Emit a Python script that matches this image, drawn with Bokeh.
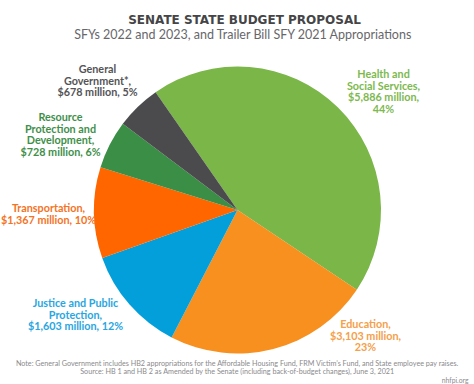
import numpy as np
from bokeh.plotting import figure
from bokeh.models import ColumnDataSource
from bokeh.core.properties import value
from bokeh.embed import file_html
from bokeh.resources import INLINE

categories = ["Health and Social Services", "Education", "Justice and Public Protection",
              "Transportation", "Resource Protection and Development", "General Government*"]
amounts = [5886, 3103, 1603, 1367, 728, 678]
percents = [44, 23, 12, 10, 6, 5]
colors = ["#7ab648", "#f7901e", "#039fda", "#ff6600", "#3b8e46", "#4b4a4d"]
label_colors = ["#7cb94e", "#f5a04a", "#29a6df", "#f4731f", "#3f8f4a", "#545456"]
label_lines = [
    ["Health and", "Social Services,", "$5,886 million,", "44%"],
    ["Education,", "$3,103 million,", "23%"],
    ["Justice and Public", "Protection,", "$1,603 million, 12%"],
    ["Transportation,", "$1,367 million, 10%"],
    ["Resource", "Protection and", "Development,", "$728 million, 6%"],
    ["General", "Government*,", "$678 million, 5%"],
]

W, H = 474, 384
def py(page_y):
    return H - page_y
def px(page_x):
    return page_x

p = figure(width=W, height=H, x_range=(0, W), y_range=(0, H),
           output_backend="svg", toolbar_location=None, min_border=0)
p.axis.visible = False
p.grid.visible = False
p.outline_line_color = None
p.background_fill_color = "white"

vals = np.array(amounts, dtype=float)
frac = vals / vals.sum()
start0 = np.deg2rad(124.8)
cum = np.concatenate([[0], np.cumsum(frac)]) * 2 * np.pi
ends = start0 - cum[:-1]
starts = start0 - cum[1:]
src = ColumnDataSource(dict(start=starts, end=ends, color=colors))
p.wedge(x=px(237), y=py(209.5), radius=143.5, start_angle="start", end_angle="end",
        fill_color="color", line_color=None, source=src)

font = value("Lato")
anchors = [(383, 73), (365, 323), (75, 302), (48, 207), (60, 116), (97, 68)]
lh = 11.6
for lines, (ax, ay), c in zip(label_lines, anchors, label_colors):
    xs = [px(ax)] * len(lines)
    ys = [py(ay + i * lh) for i in range(len(lines))]
    p.text(x=xs, y=ys, text=lines, text_font=font, text_font_style="bold",
           text_font_size="10.8px", text_color=c, text_align="center", text_baseline="middle")

p.text(x=[px(244)], y=[py(19)], text=["SENATE STATE BUDGET PROPOSAL"], text_font=value("DejaVu Sans"),
       text_font_style="bold", text_font_size="12px", text_color="#454547",
       text_align="center", text_baseline="middle")
p.text(x=[px(243)], y=[py(34)], text=["SFYs 2022 and 2023, and Trailer Bill SFY 2021 Appropriations"],
       text_font=font, text_font_size="12.5px", text_color="#67676a",
       text_align="center", text_baseline="middle")

notes = ["Note: General Government includes HB2 appropriations for the Affordable Housing Fund, FRM Victim\u2019s Fund, and State employee pay raises.",
         "Source: HB 1 and HB 2 as Amended by the Senate (including back-of-budget changes), June 3, 2021"]
p.text(x=[px(237), px(237)], y=[py(363), py(371)], text=notes, text_font=font,
       text_font_size="7.2px", text_color="#8a8a8c", text_align="center", text_baseline="middle")
p.text(x=[px(468)], y=[py(379)], text=["nhfpi.org"], text_font=font,
       text_font_size="6.8px", text_color="#8a8a8c", text_align="right", text_baseline="middle")

open("out.html", "w").write(file_html(p, INLINE))
